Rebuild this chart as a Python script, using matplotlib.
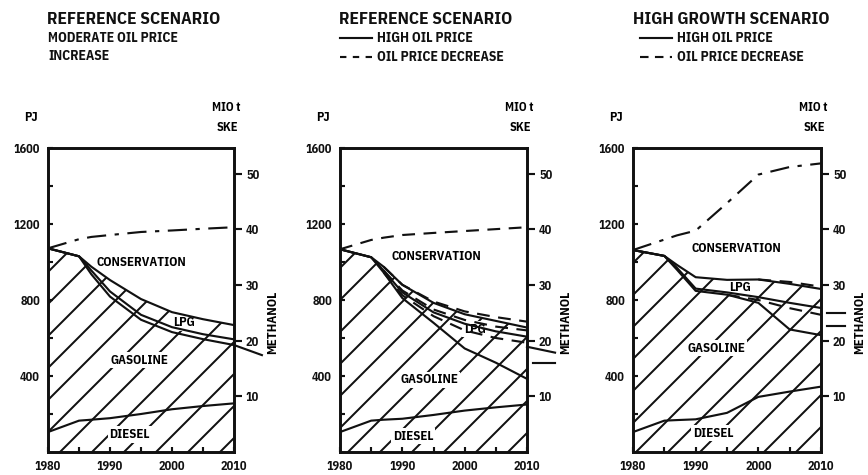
import matplotlib
matplotlib.use("Agg")
import matplotlib.pyplot as plt
from matplotlib.lines import Line2D

# ---- data (PJ, left axis) ----
years = [1980, 1985, 1987, 1990, 1995, 2000, 2005, 2010]

# panel 1: reference scenario, moderate oil price increase
p1_total = [1072, 1030, 975, 905, 805, 736, 699, 668]
p1_lpg_bottom = [1072, 1030, 955, 845, 722, 657, 620, 593]
p1_gasoline_top = [1072, 1030, 935, 818, 696, 631, 594, 563]
p1_conservation = [1072, 1120, 1132, 1142, 1158, 1166, 1175, 1183]
p1_diesel = [105, 165, 170, 178, 200, 225, 242, 256]

# panel 2: reference scenario, high oil price (solid) / oil price decrease (dashed)
p2_total = [1067, 1025, 975, 880, 785, 725, 690, 655]
p2_lpg_bottom = [1067, 1025, 955, 840, 735, 675, 635, 607]
p2_gasoline_top = [1067, 1025, 945, 810, 680, 545, 470, 385]
p2_conservation = [1067, 1116, 1128, 1142, 1153, 1163, 1173, 1183]
p2_diesel = [105, 165, 170, 175, 195, 218, 235, 250]
p2_dec_years = [1987, 1990, 1995, 2000, 2005, 2010]
p2_dec_total = [975, 880, 792, 740, 710, 686]
p2_dec_lpg_bottom = [955, 850, 750, 695, 660, 640]
p2_dec_gasoline_top = [945, 825, 715, 640, 600, 575]

# panel 3: high growth scenario
p3_total = [1063, 1032, 985, 920, 906, 908, 885, 858]
p3_lpg_bottom = [1063, 1032, 970, 860, 840, 815, 785, 758]
p3_gasoline_top = [1063, 1032, 960, 848, 828, 785, 645, 615]
p3_conservation = [1063, 1118, 1140, 1165, 1310, 1460, 1500, 1519]
p3_diesel = [105, 165, 168, 172, 206, 290, 318, 344]
p3_dec_total_years = [2000, 2005, 2010]
p3_dec_total = [908, 895, 870]
p3_dec_gas_years = [1995, 2000, 2005, 2010]
p3_dec_gasoline_top = [828, 800, 757, 722]

SKE = 29.3  # PJ per Mio t SKE
left_ticks = [400, 800, 1200, 1600]
right_ticks = [10, 20, 30, 40, 50]
x_ticks = [1980, 1990, 2000, 2010]

DPI = 192
W, H = 868, 475
FONT = ['IBM Plex Sans Condensed', 'DejaVu Sans']
INK = '#111111'
LW = 0.8
TICK_FS = 4.6
LABEL_FS = 4.8

plt.rcParams['font.family'] = FONT
plt.rcParams['font.weight'] = 'bold'
plt.rcParams['hatch.linewidth'] = 0.75
plt.rcParams['hatch.color'] = INK

fig = plt.figure(figsize=(W / DPI, H / DPI), dpi=DPI)
fig.patch.set_facecolor('white')


def px_rect(left, right, top, bottom):
    return [left / W, 1 - bottom / H, (right - left) / W, (bottom - top) / H]


def setup_axes(rect):
    ax = fig.add_axes(rect)
    ax.set_xlim(1980, 2010)
    ax.set_ylim(0, 1600)
    ax.set_xticks(x_ticks)
    ax.set_xticks([1985, 1995, 2005], minor=True)
    ax.set_yticks(left_ticks)
    ax.set_yticks([200, 600, 1000, 1400], minor=True)
    ax.tick_params(axis='both', which='both', direction='in', length=2, width=LW,
                   labelsize=TICK_FS, pad=3, colors=INK)
    for s in ax.spines.values():
        s.set_linewidth(1.0)
        s.set_color(INK)
    ax2 = ax.twinx()
    ax2.set_ylim(0, 1600 / SKE)
    ax2.set_yticks(right_ticks)
    ax2.tick_params(axis='y', direction='out', length=3, width=LW, labelsize=TICK_FS,
                    pad=1.5, colors=INK)
    for s in ax2.spines.values():
        s.set_linewidth(1.0)
        s.set_color(INK)
    ax.text(1977.2, 1760, 'PJ', fontsize=TICK_FS, ha='center', va='center', clip_on=False)
    ax.text(2008.8, 1815, 'MIO t', fontsize=TICK_FS, ha='center', va='center', clip_on=False)
    ax.text(2008.9, 1710, 'SKE', fontsize=TICK_FS, ha='center', va='center', clip_on=False)
    ax.text(2016.2, 684, 'METHANOL', fontsize=4.9, rotation=90, ha='center',
            va='center', clip_on=False)
    return ax


def label(ax, x, y, s):
    ax.text(x, y, s, fontsize=LABEL_FS, ha='center', va='center', zorder=2,
            bbox=dict(facecolor='white', edgecolor='none', pad=0.6))


def curve(ax, x, y, ls='-'):
    ax.plot(x, y, color=INK, lw=LW, ls=ls, zorder=4, solid_capstyle='round')


def hatch_area(ax, total):
    ax.fill_between(years, 0, total, facecolor='none', edgecolor=INK, hatch='//',
                    linewidth=0, zorder=1)


DASHDOT = (0, (9, 4, 2, 4))
DASHED = (0, (6, 4))

# ---- panel 1 ----
ax1 = setup_axes(px_rect(48, 234, 148, 452))
hatch_area(ax1, p1_total)
for series in (p1_total, p1_lpg_bottom, p1_gasoline_top, p1_diesel):
    curve(ax1, years, series)
curve(ax1, years, p1_conservation, DASHDOT)
label(ax1, 1995, 1000, 'CONSERVATION')
label(ax1, 2002, 680, 'LPG')
label(ax1, 1994.8, 484, 'GASOLINE')
label(ax1, 1993.2, 92, 'DIESEL')
ax1.plot([2010, 2014.5], [563, 510], color=INK, lw=LW, clip_on=False)

# ---- panel 2 ----
ax2 = setup_axes(px_rect(340, 527, 148, 452))
hatch_area(ax2, p2_total)
for series in (p2_total, p2_lpg_bottom, p2_gasoline_top, p2_diesel):
    curve(ax2, years, series)
for series in (p2_dec_total, p2_dec_lpg_bottom, p2_dec_gasoline_top):
    curve(ax2, p2_dec_years, series, DASHED)
curve(ax2, years, p2_conservation, DASHED)
label(ax2, 1995.5, 1028, 'CONSERVATION')
label(ax2, 2001.6, 645, 'LPG')
label(ax2, 1994.4, 379, 'GASOLINE')
label(ax2, 1991.7, 84, 'DIESEL')
ax2.plot([2010, 2014.5], [554, 523], color=INK, lw=LW, clip_on=False)
ax2.plot([2011, 2014.5], [468, 468], color=INK, lw=LW, clip_on=False)

# ---- panel 3 ----
ax3 = setup_axes(px_rect(633, 821, 148, 452))
hatch_area(ax3, p3_total)
for series in (p3_total, p3_lpg_bottom, p3_gasoline_top, p3_diesel):
    curve(ax3, years, series)
curve(ax3, p3_dec_total_years, p3_dec_total, DASHED)
curve(ax3, p3_dec_gas_years, p3_dec_gasoline_top, DASHED)
curve(ax3, years, p3_conservation, DASHDOT)
label(ax3, 1996.5, 1072, 'CONSERVATION')
label(ax3, 1997.1, 868, 'LPG')
label(ax3, 1993.3, 546, 'GASOLINE')
label(ax3, 1992.8, 98, 'DIESEL')
ax3.plot([2011, 2013.8], [732, 732], color=INK, lw=LW, clip_on=False)
ax3.plot([2011, 2013.8], [665, 665], color=INK, lw=LW, clip_on=False)


# ---- titles and legends (figure pixels) ----
def ftext(x, y, s, size):
    fig.text(x / W, 1 - y / H, s, fontsize=size, ha='left', va='center', color=INK)


def fline(x0, x1, y, ls):
    fig.add_artist(Line2D([x0 / W, x1 / W], [1 - y / H, 1 - y / H], color=INK,
                          lw=LW, ls=ls, transform=fig.transFigure))


TITLE_FS = 6.5
SUB_FS = 5.1

ftext(47, 19, 'REFERENCE SCENARIO', TITLE_FS)
ftext(48, 38, 'MODERATE OIL PRICE', SUB_FS)
ftext(48, 56, 'INCREASE', SUB_FS)

ftext(339, 19, 'REFERENCE SCENARIO', TITLE_FS)
fline(340, 372, 38, '-')
ftext(377, 38, 'HIGH OIL PRICE', SUB_FS)
fline(340, 372, 57, (0, (3, 3)))
ftext(377, 57, 'OIL PRICE DECREASE', SUB_FS)

ftext(633, 19, 'HIGH GROWTH SCENARIO', TITLE_FS)
fline(640, 672, 38, '-')
ftext(677, 38, 'HIGH OIL PRICE', SUB_FS)
fline(640, 672, 57, (0, (4, 3)))
ftext(677, 57, 'OIL PRICE DECREASE', SUB_FS)

fig.savefig('out.png', dpi=DPI, facecolor='white')
